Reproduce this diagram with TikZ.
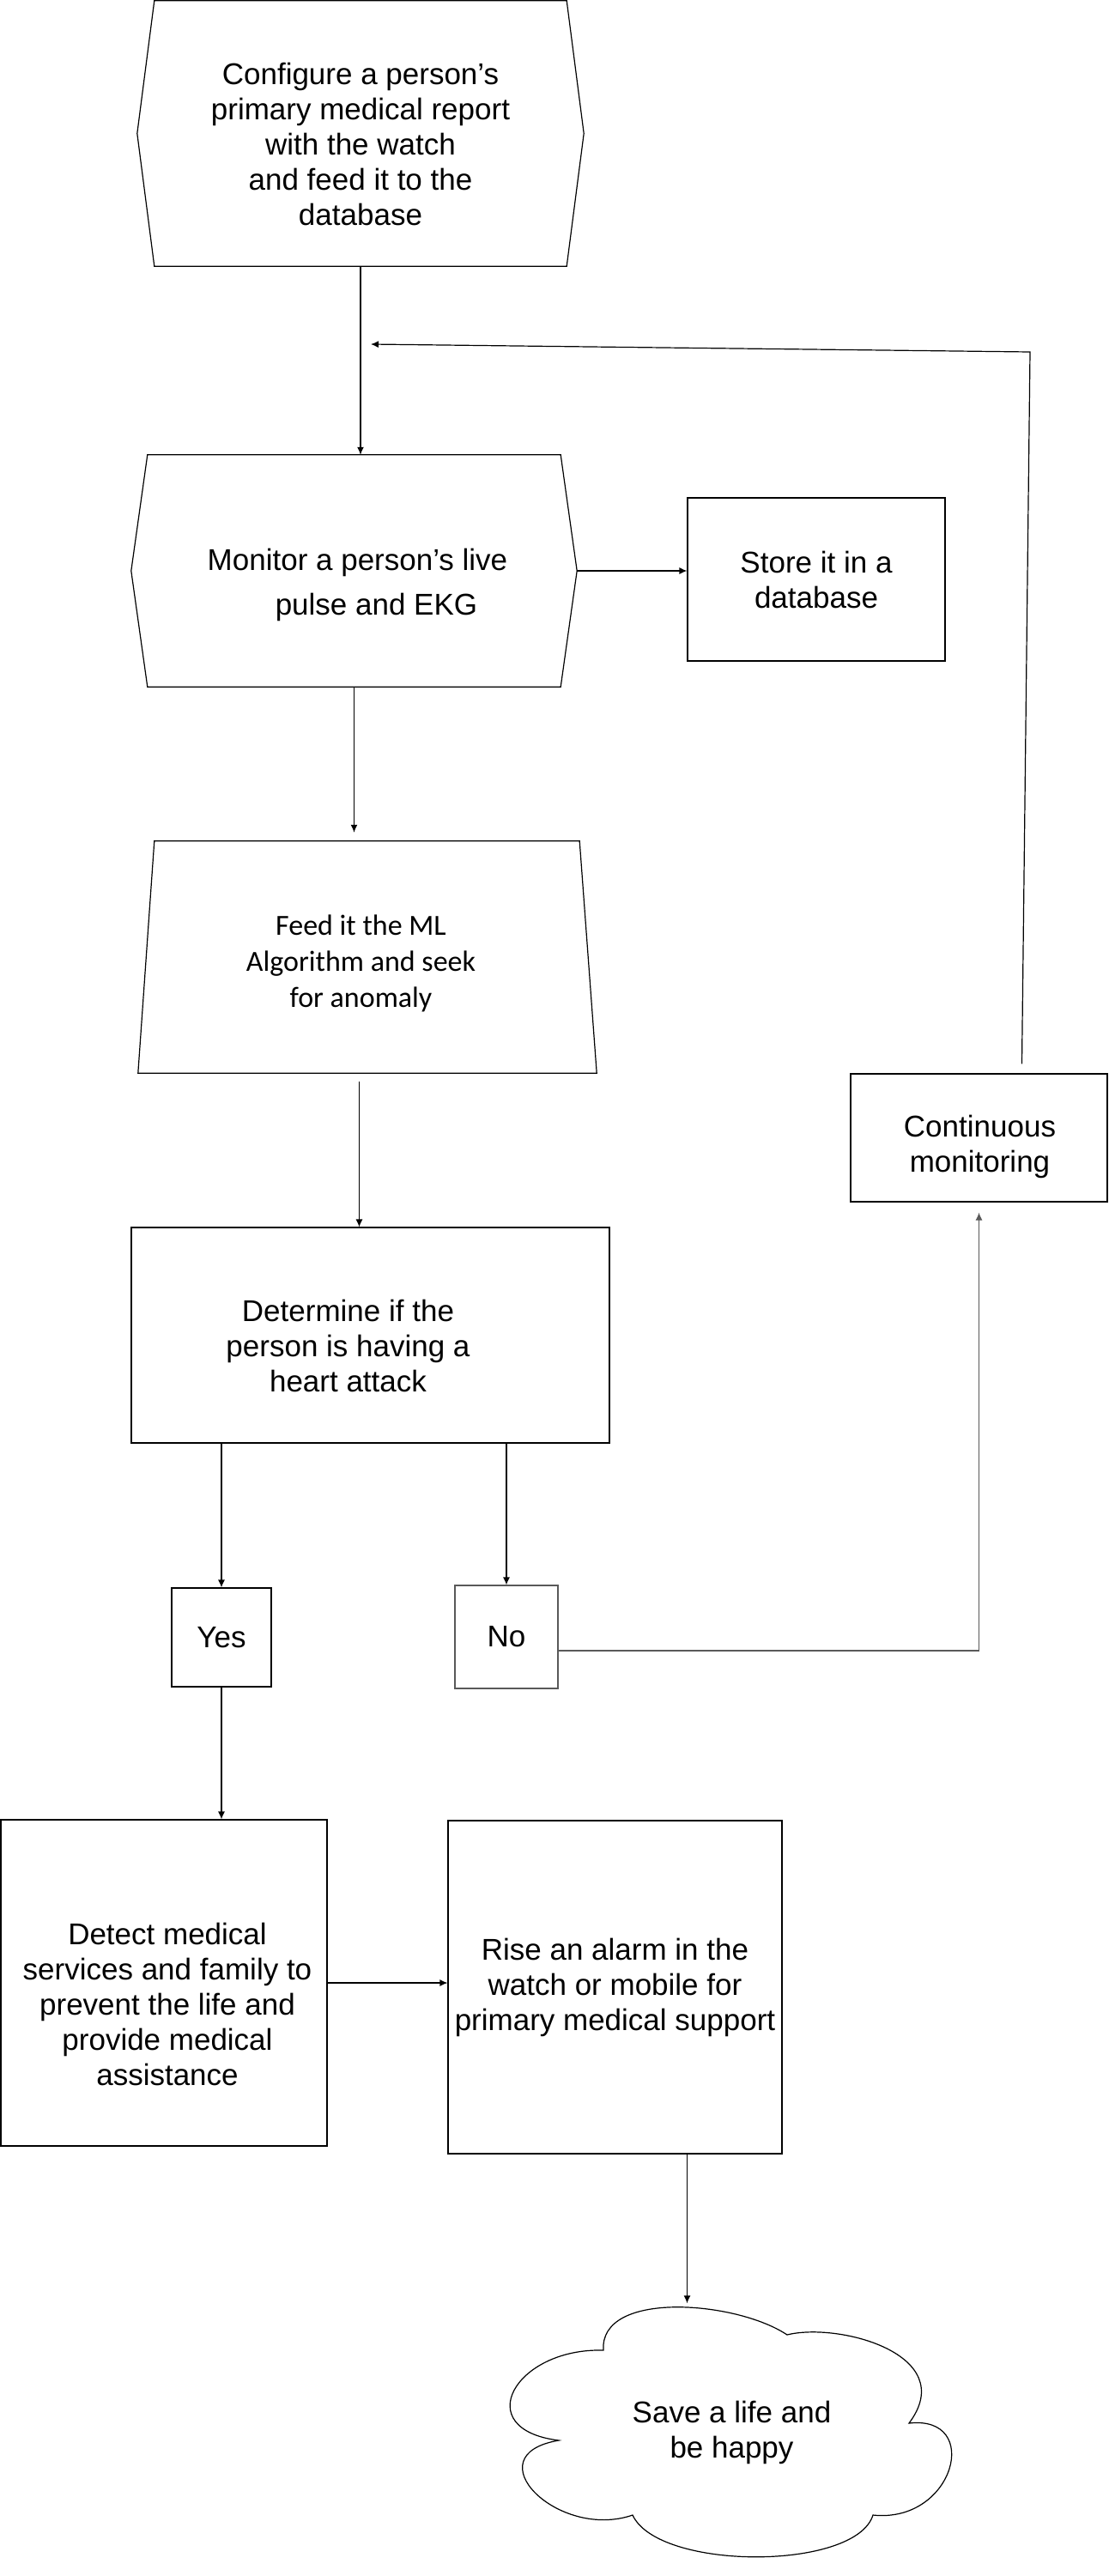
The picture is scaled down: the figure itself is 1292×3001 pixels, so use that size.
\documentclass[tikz,border=0pt]{standalone}
\usepackage{fontspec}
\setmainfont{Liberation Sans}
\newfontfamily\calibri{Carlito}
\usetikzlibrary{calc}
\usetikzlibrary{arrows.meta, positioning}
\newcommand{\boxsize}{\fontsize{35}{41}\selectfont}

\begin{document}
\begin{tikzpicture}[
        x=1pt, y=-1pt,
        font=\boxsize,
        box/.style={draw, line width=1.2pt, align=center, inner sep=0pt},
        frame/.style={inner sep=0pt, align=center},
        txt/.style={align=center, inner sep=0pt},
        ar/.style={-{Latex[length=9pt, width=8pt]}, line width=1.2pt}
    ]
        \useasboundingbox (0,0) rectangle (1292,3001);

        \node[frame, minimum width=480, minimum height=309] (conf) at (420,155.5) {};
        \node[frame, minimum width=481, minimum height=270] (mon)  at (412.5,665) {};
        \node[frame, minimum width=495, minimum height=270] (ml)   at (427.5,1115) {};
        \node[box, minimum width=300, minimum height=190]   (store) at (951,675) {Store it in a\\database};
        \node[box, minimum width=557, minimum height=251]   (det)  at (431.5,1555.5) {};
        \node[box, minimum width=116, minimum height=115]   (yes)  at (258,1907.5) {Yes};
        \node[box, draw=black!65, minimum width=120, minimum height=120] (no) at (590,1907) {No};
        \node[box, minimum width=299, minimum height=149]   (cont) at (1140.5,1325.5) {};
        \node[box, minimum width=380, minimum height=380]   (detect) at (191,2310) {};
        \node[box, minimum width=389, minimum height=388]   (alarm) at (716.5,2315)
            {Rise an alarm in the\\watch or mobile for\\primary medical support};
        \node[frame, minimum width=513, minimum height=301] (save) at (852.5,2834) {Save a life and\\be happy};

        \draw[line width=1.2pt] (conf.north west) -- (conf.north east) -- ([xshift=20pt]conf.east)
            -- (conf.south east) -- (conf.south west) -- ([xshift=-20pt]conf.west) -- cycle;
        \draw[line width=1.2pt] (mon.north west) -- (mon.north east) -- ([xshift=19pt]mon.east)
            -- (mon.south east) -- (mon.south west) -- ([xshift=-19pt]mon.west) -- cycle;
        \draw[line width=1.2pt] (ml.north west) -- (ml.north east) -- ([xshift=20pt]ml.south east)
            -- ([xshift=-19pt]ml.south west) -- cycle;
        \draw[line width=1.2pt] (703,2738)
            .. controls (698,2668) and (857,2680) .. (917,2720)
            .. controls (977,2705) and (1119,2743) .. (1059,2823)
            .. controls (1145,2813) and (1112,2940) .. (1017,2930)
            .. controls (997,2995) and (767,2995) .. (737,2930)
            .. controls (650,2960) and (550,2860) .. (651,2843)
            .. controls (546,2830) and (600,2735) .. (703,2738) -- cycle;

        \node[txt] (conf-t) at ($(conf)+(0,12)$)
            {Configure a person’s\\primary medical report\\with the watch\\and feed it to the\\database};
        \node[txt, font=\fontsize{35}{52}\selectfont] (mon-t) at ($(mon)+(4,16)$)
            {Monitor a person’s live\\\hspace*{44pt}pulse and EKG};
        \node[txt, font=\calibri\fontsize{34}{42}\selectfont] (ml-t) at ($(ml)+(-7,7)$)
            {Feed it the ML\\Algorithm and seek\\for anomaly};
        \node[txt] (det-t) at ($(det)+(-26,12)$) {Determine if the\\person is having a\\heart attack};
        \node[txt] (cont-t) at ($(cont)+(1,10)$) {Continuous\\monitoring};
        \node[txt] (detect-t) at ($(detect)+(4,25)$)
            {Detect medical\\services and family to\\prevent the life and\\provide medical\\assistance};

        \coordinate (mon-e) at ([xshift=19pt]mon.east);
        \coordinate (top-bend) at (1200,410);
        \coordinate (loop-end) at (432,401);

        \foreach \a/\b in {conf/mon, yes/detect}{\draw[ar] (\a.south) -- (\a.south |- \b.north);}
        \foreach \b in {yes, no}{\draw[ar] (\b.north |- det.south) -- (\b.north);}
        \draw[ar] (mon-e) -- (mon-e -| store.west);
        \draw[ar, shorten >=10pt] (mon.south) -- (mon.south |- ml.north);
        \draw[ar, shorten <=10pt] ([xshift=-9pt]ml.south) -- ([xshift=-9pt]ml.south |- det.north);
        \draw[ar, draw=black!65, shorten >=12pt] ([yshift=-16pt]no.east) -| (cont.south);
        \draw[ar] ([xshift=50pt, yshift=11pt]cont.north) -- (top-bend) -- (loop-end);
        \draw[ar] (detect.east) -- (detect.east -| alarm.west);
        \draw[ar] ([xshift=84pt]alarm.south) -- ([xshift=84pt]alarm.south |- save.north);
    \end{tikzpicture}
\end{document}
